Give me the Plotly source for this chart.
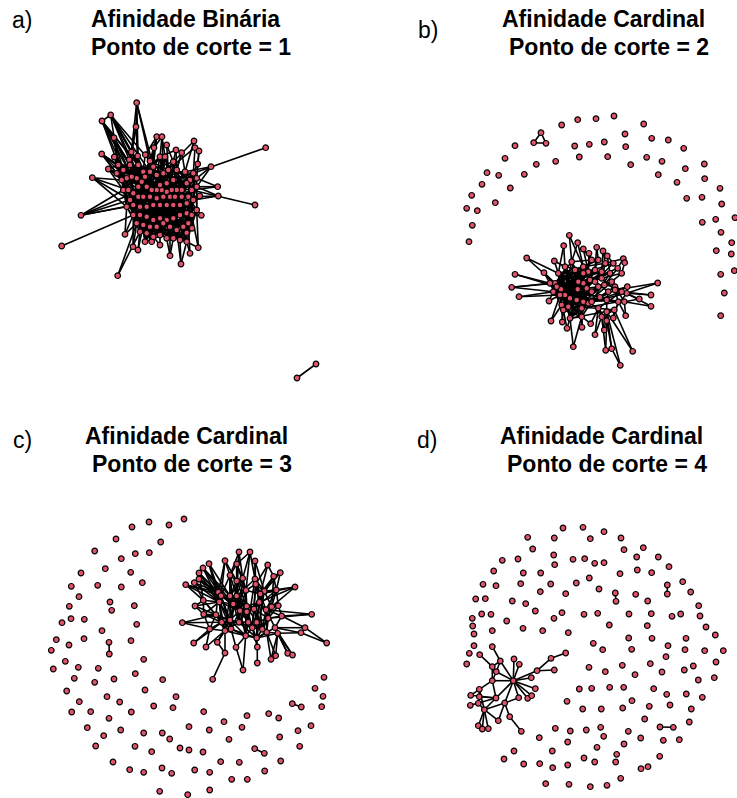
import plotly.graph_objects as go

NODE_COLOR = "#DF536B"

PANEL_LABELS = ["a)", "b)", "c)", "d)"]
TITLE_LINE1 = ["Afinidade Binária", "Afinidade Cardinal", "Afinidade Cardinal", "Afinidade Cardinal"]
TITLE_LINE2 = ["Ponto de corte = 1", "Ponto de corte = 2", "Ponto de corte = 3", "Ponto de corte = 4"]

# ---------------- panel a (binary affinity, cut = 1) ----------------
A_CORE = [
    (136.7,102.7),(110.7,115),(102,121),(136,126.7),(114,137.7),(156.7,136.7),(162,136.7),(166.7,145),
    (194,141),(195,147.7),(199,151),(265.7,147.7),(101.7,154),(176,150),(181.7,152.7),(131.3,152),
    (145.3,154.7),(154,147.7),(114.3,157),(119,165),(129.3,159.7),(137.7,156),(197.7,164),(211,166.7),
    (108.3,169),(92.3,177.7),(217.7,186.7),(218.3,196),(199.7,196),(255,205),(201.3,215.3),(81,215.3),
    (192,228.3),(186.7,232.7),(125,234.3),(61.7,246),(133,246.7),(138,250),(151.7,241.7),(160,245),
    (170,255.7),(181,264),(190,253.3),(198.3,247.7),(117.7,275.7),
    (118.3,165),(130,165),(138.3,165),(150,161),(160,156.7),(165,156.7),(173.3,161.7),(176.7,170),
    (185,171.7),(193.3,173.3),(196.7,178.3),(190,180),(186.7,183.3),(181.7,190),(176.7,190),(171.7,190),
    (166.7,191.7),(161.7,190),(156.7,190),(151.7,190),(146.7,186.7),(141.7,181.7),(136.7,178.3),(131.7,176.7),
    (126.7,178.3),(121.7,180),(123.3,190),(128.3,190),(133.3,193.3),(138.3,196.7),(143.3,196.7),(150,196.7),
    (156.7,198.3),(163.3,196.7),(170,196.7),(175,196.7),(181.7,196.7),(188.3,196.7),(191.7,190),(196.7,186.7),
    (193.3,200),(186.7,203.3),(180,205),(173.3,205),(166.7,205),(160,205),(153.3,205),(146.7,206.7),
    (140,206.7),(133.3,205),(130,200),(126.7,206.7),(133.3,215),(140,215),(146.7,216.7),(153.3,220),
    (160,218.3),(166.7,220),(173.3,218.3),(180,215),(186.7,213.3),(191.7,215),(196.7,210),(136.7,223.3),
    (143.3,225),(150,226.7),(156.7,226.7),(163.3,223.3),(170,226.7),(176.7,230),(183.3,226.7),(188.3,223.3),
    (140,231.7),(146.7,233.3),(153.3,236.7),(160,235),(166.7,238.3),(173.3,238.3),(180,240),(186.7,241.7),
    (145,241.7),(160,185),(166.7,183.3),(173.3,180),(150,171.7),(156.7,175),(163.3,173.3),(168.3,170),
    (153.3,166.7),(143.3,171.7),(123.3,170),(116.7,173.3),(138.3,186.7),(145,176.7),
]
A_CORE_EDGES = (
    "0-3 0-48 0-46 1-47 1-129 1-66 1-20 1-2 2-46 2-68 2-134 2-4 3-15 3-47 3-21 4-19 4-46 4-67 "
    "5-48 5-133 5-16 6-49 6-50 6-17 7-51 7-132 8-53 8-51 9-54 9-131 10-22 10-55 11-54 12-45 12-69 "
    "12-135 13-52 13-49 14-53 14-128 15-46 15-68 16-48 16-66 17-133 17-129 18-45 18-70 19-135 19-69 "
    "20-46 20-67 21-47 21-138 22-54 22-56 23-55 23-84 23-53 24-70 24-71 24-136 25-70 25-72 25-95 "
    "25-96 26-84 26-83 26-55 27-85 27-82 27-84 28-85 28-82 29-83 30-107 30-106 31-71 31-95 31-96 "
    "31-73 31-94 32-106 32-105 33-116 33-115 34-96 34-108 34-97 35-97 36-108 36-97 37-117 37-109 "
    "38-118 38-110 39-120 39-119 40-121 40-122 40-113 41-123 41-124 41-114 42-124 42-116 43-107 "
    "43-124 43-106 44-117 44-108 "
    "1-45 1-48 1-134 1-138 2-45 2-47 2-135 2-66 4-45 4-135 4-68 12-70 12-136 18-135 18-67 19-70 "
    "19-46 24-45 24-69 0-47 0-133 3-46 5-129 6-131 13-51 14-52 "
    "45-67 45-72 45-129 46-66 46-73 46-130 47-65 47-76 47-131 48-62 48-78 48-132 49-61 49-127 49-79 "
    "50-60 50-128 50-80 51-59 51-57 51-81 52-58 52-56 52-82 53-83 53-57 53-84 129-137 129-64 131-126 "
    "131-63 132-127 132-59 133-65 133-75 134-74 134-137 135-71 135-68 136-72 136-70 "
    "54-58 54-85 54-82 55-83 55-107 56-86 56-81 57-87 57-80 66-74 66-93 67-94 67-75 68-95 68-73 "
    "69-96 69-72 70-71 70-94 127-89 127-60 128-88 128-79 130-90 130-77 138-76 138-91 "
    "58-105 58-87 59-104 59-88 60-103 60-89 61-102 61-90 62-101 62-91 63-100 63-92 64-99 64-93 "
    "65-98 65-94 71-96 71-97 72-108 72-97 83-106 83-86 84-107 84-105 126-112 126-78 137-109 137-74 "
    "73-98 73-117 74-99 74-118 75-100 75-110 76-101 76-111 77-102 77-112 78-103 78-113 79-104 79-114 "
    "80-105 80-115 81-106 81-116 82-107 82-124 85-116 85-106 95-97 95-108 "
    "86-123 86-104 87-122 87-103 88-121 88-102 89-120 89-101 90-119 90-111 91-118 91-110 92-125 "
    "92-109 93-117 93-108 94-97 94-98 96-108 96-117 107-124 107-116 "
    "97-118 98-125 99-119 100-120 101-121 102-122 103-123 104-124 105-115 106-116 97-110 98-111 "
    "99-112 100-113 101-114 102-115 103-116 "
    "108-119 109-120 110-121 111-122 112-123 113-124 114-125 117-110 118-111 119-112 120-113 121-114 "
    "122-115 123-116 "
    "45-110 47-119 49-113 51-121 53-112 46-100 48-104 50-92 52-96 54-99 66-103 70-105 135-88 136-80 "
    "129-86 131-93 133-114 134-122 138-120 126-96 137-102 57-117 56-125 84-108 83-118 "
    "45-62 45-88 46-79 46-105 47-86 47-99 48-73 48-95 49-71 49-96 50-69 50-93 51-68 51-94 52-67 52-73 "
    "53-66 53-90 54-65 54-91 55-64 55-87 56-63 56-92 57-62 57-99 58-65 58-121 59-70 59-118 60-72 "
    "60-119 61-73 61-120 62-74 62-117 63-76 63-125 64-77 64-122 65-78 65-123 66-79 66-124 67-80 "
    "67-113 68-81 68-112 69-82 69-111 70-83 70-110 71-84 71-109 72-85 72-100 73-86 73-101 74-87 "
    "74-102 75-88 75-103 76-89 76-104 77-107 77-117 78-94 78-125 79-93 79-118 80-92 80-119 81-91 "
    "81-120 82-90 82-121 83-89 83-122 84-88 84-123 85-87 85-114 86-95 86-113 87-96 87-108 88-97 "
    "88-109 89-98 89-110 90-99 90-108 91-100 91-109 92-101 92-111 93-102 93-112 94-103 94-113 95-104 "
    "95-114 96-105 96-115 97-106 97-116 98-107 98-124 99-114 100-115 101-116 102-117 103-118 104-119 "
    "105-120 106-121 107-122 108-123 109-124 110-125 126-45 127-46 128-47 129-48 130-49 131-50 "
    "132-51 133-52 134-53 135-54 136-55 137-56 138-57 126-117 127-118 128-119 129-120 130-121 "
    "131-122 132-123 133-124 134-125 135-104 136-105 137-106 138-107"
)
A_PAIR = [(316,364),(297,378)]
A_PAIR_EDGES = "0-1"

# ---------------- panel b (cardinal affinity, cut = 2) ----------------
B_CORE = [
    (569.3,235.3),(563.7,245.7),(577.7,242.7),(583.3,249),(589,253.3),(596.7,247.3),(603,251),(607.3,256),
    (623.3,258.7),(624.7,262.7),(526.7,258),(554.3,261),(544,272.7),(515,274.3),(511.7,287.3),(519,296.7),
    (549,301),(657.7,283),(651,295),(651,306.3),(639.3,299),(627.3,286.7),(625.7,315.7),(551,321),
    (562.3,322),(567,328.3),(582,327.3),(590.7,323.7),(595,334.7),(604.3,330),(573.3,346.7),(605.7,350.3),
    (611.7,348.7),(632.7,351.3),(620.3,365.3),(613.3,318),(606.7,320.7),
    (591.7,260),(598.3,260),(605.3,263.3),(613.3,263.3),(617.7,268.3),(621.7,273.3),(610,273.3),(601.7,271.7),
    (595,270),(588.3,271.7),(583.3,273.3),(583.3,266.7),(575,270),(571.7,261.7),(565,266.7),(558.3,273.3),
    (555,283.3),(561,289.3),(565,295),(560,295),(561.7,305),(563.3,310),(570,318.3),(581.7,308.3),
    (588.3,303.3),(591.7,301.7),(598.3,308.3),(600,297.3),(606.7,300),(614.3,310),(618.3,301.7),(624.3,301.7),
    (626.7,293.3),(621.7,291.7),(615,286.7),(611.7,281.7),(604.3,285),(598.3,286.7),(591.7,291.7),(586.7,288.3),
    (583.3,283.3),(578.3,281.7),(577.7,289.3),(590,280),(595,281.7),(601.7,278.3),(608.3,291.7),(615,290),
    (576.7,300),(583.3,301.7),(606.7,311.7),(601.7,316.7),(581.7,316.7),(570,298.3),(568.3,306.7),(553.3,291.7),
    (556.7,286.7),(550,283.3),
]
B_CORE_EDGES = (
    "0-50 0-48 1-51 1-52 2-48 2-50 3-46 3-37 4-37 4-46 5-38 5-45 6-39 6-44 7-40 7-43 8-41 9-42 8-39 "
    "10-52 10-53 11-51 11-52 12-53 12-93 12-94 13-93 13-94 14-94 14-92 14-53 15-92 15-56 16-56 16-92 "
    "17-84 17-69 18-69 18-70 19-68 19-69 20-68 20-70 21-69 21-84 22-68 22-67 23-57 23-56 24-58 24-57 "
    "25-59 25-58 26-89 26-60 27-89 27-63 28-63 28-88 29-88 29-87 30-59 30-89 31-88 31-36 32-87 32-36 "
    "33-66 33-87 34-87 34-32 35-66 35-67 36-63 36-87 "
    "50-53 50-78 50-77 51-54 51-79 51-90 52-55 52-85 52-78 53-86 53-85 53-79 54-60 54-86 54-76 55-61 "
    "55-77 55-89 56-85 56-91 56-79 57-90 57-86 57-60 58-85 58-89 58-61 59-90 59-60 92-79 92-55 92-90 "
    "93-54 93-78 93-85 94-55 94-79 94-91 49-54 49-90 49-56 48-55 48-91 48-53 47-56 47-57 47-52 46-58 "
    "46-53 46-51 45-52 45-79 45-59 44-76 44-47 44-85 43-77 43-78 43-89 42-72 42-82 41-73 41-80 40-81 "
    "40-46 39-82 39-48 38-80 38-49 37-47 37-50 37-79 "
    "60-62 61-64 62-65 63-66 64-67 65-68 66-88 67-84 68-71 69-71 70-72 71-73 72-74 73-75 74-76 75-77 "
    "76-78 77-79 78-80 79-81 80-82 81-83 82-84 83-65 84-70 85-86 86-62 87-65 88-63 89-59 90-91 91-57 "
    "73-86 74-85 75-90 81-56 82-54 83-60 84-62 72-75 71-64 70-63 69-66 "
    "85-93 86-94 89-92 60-93 61-94 62-56 76-91 77-57 78-58 79-59 80-89 "
    "50-86 50-60 51-61 51-89 52-62 52-59 53-63 53-89 54-64 54-91 55-65 55-59 56-60 56-86 57-61 57-85 "
    "58-62 58-90 59-86 60-91 61-90 92-85 92-60 93-86 93-57 94-89 94-58 49-85 49-60 48-86 48-59 47-89 "
    "47-91 46-90 46-55 45-56 45-54 44-57 44-93 43-52 43-92 80-93 81-94 82-92 77-90 78-91 79-85 76-55 "
    "75-56 74-57 73-58 72-59 71-60 70-61 69-62 64-54 65-53 66-59 67-60 68-85 63-91 62-54 61-53 77-53 "
    "78-54 79-92 45-93 46-94 47-92 48-52 49-53 50-55 51-56 52-57 90-55 91-54 85-92 86-93 89-94"
)
B_TRI = [(541,132.7),(533.7,142.7),(546,143.3)]
B_TRI_EDGES = "0-1 0-2 1-2"
B_ISO = [
    (561.7,125),(577.7,119.7),(596,118.7),(614,116),(643.7,124),(515,145.7),(574.7,146),(589.3,144.3),
    (604.3,142),(625,134),(625.7,146.7),(651.7,138.3),(668.3,140),(683.7,148.3),(505,158.3),(579.3,157),
    (607.7,156.7),(555.7,161.3),(536.3,164.3),(646.7,157.3),(662,161.3),(630.7,164.7),(704.3,164),(685.3,168.7),
    (487,172.7),(498.7,175.3),(524.3,174.3),(658.3,174.7),(704.7,178.7),(482,184.3),(510.3,188),(677,182.3),
    (720,188.3),(471.7,195.3),(686.7,198.3),(702,197.3),(721.7,204),(495.3,202.7),(466.7,208.3),(477.3,210.7),
    (472.3,225.3),(702.3,222.3),(715.7,219.3),(735,217.7),(721,232.3),(469,241.7),(731.7,242.7),(716.3,250.7),
    (731.3,254),(734.3,270.7),(720.7,274.3),(724.3,293),(720.7,315.7),
]

# ---------------- panel c (cardinal affinity, cut = 3) ----------------
C_CORE = [
    (239,552),(250,552),(225,560.7),(236.7,564),(255,561),(267.7,565),(209,563.7),(203,568),
    (199,573),(230,575.3),(242.7,578.3),(255,579),(273.7,576.3),(280.3,572.7),(199,579),(194.3,582.7),
    (185.7,584.7),(236.7,581),(255.7,584.3),(295,587),(246,590.3),(264.3,591.3),(276.3,590),(218.3,592.3),
    (221,595.7),(230,596),(236.7,596),(260.3,594),(203.3,600.3),(219.3,602),(259.3,602.3),(233.3,604),
    (195,606),(246.7,606.3),(271.7,606.7),(278.3,605.7),(254,609),(266,609.7),(240,610.7),(246.7,611.7),
    (216,614.7),(203.7,614.3),(281.7,616),(311.7,614.3),(268.3,618.3),(230,620),(221.7,622.3),(182.3,622.7),
    (239,622.3),(248.3,622.3),(256.7,622.3),(209.7,629),(231,629),(252.3,627.7),(262.3,629.3),(275,627.7),
    (305,627.7),(225,630.7),(301,632.7),(266.7,632.3),(277.7,633.3),(245.7,635.7),(256.7,638),(193.7,643),
    (206,647),(217.3,642.3),(236,647.3),(257.3,647),(326.7,643),(225,653),(287.7,653.3),(292.5,655),
    (257.3,663),(243,670),(271,659.3),(275.7,655.7),(212.7,679.3),
]
C_CORE_EDGES = (
    "0-9 0-17 0-10 1-10 1-11 1-3 2-9 2-23 3-17 4-11 4-18 5-12 5-18 6-24 6-23 7-25 7-29 8-24 8-28 "
    "14-29 14-23 15-28 16-23 16-24 13-12 13-21 12-22 19-27 19-21 47-51 47-40 41-29 41-51 32-28 32-40 "
    "43-42 43-44 56-42 56-55 58-60 58-55 68-58 68-56 63-51 63-46 64-57 64-51 65-57 65-45 66-52 66-61 "
    "67-62 67-53 72-67 73-61 73-66 69-57 69-65 76-69 74-59 74-60 75-59 75-60 70-60 70-55 71-60 71-55 "
    "57-46 57-52 9-25 9-24 10-20 10-26 11-27 11-21 17-26 17-20 18-27 18-30 20-33 20-31 21-30 21-34 "
    "22-34 22-35 23-29 24-31 25-38 26-38 27-36 28-40 29-45 30-37 31-45 33-48 34-44 35-42 36-50 37-44 "
    "38-52 39-49 40-46 42-55 44-54 45-48 46-57 48-53 49-61 50-54 53-62 54-59 55-60 59-62 61-62 52-61 "
    "51-46 25-33 26-36 23-31 24-38 9-31 3-26 3-20 10-33 11-30 12-34 12-27 29-52 31-48 33-53 36-54 "
    "37-59 45-61 40-57 28-29 38-49 30-50 20-39 17-25 18-21 32-41 41-40 24-45 25-52 26-49 33-50 36-44 "
    "30-36 39-53 45-52 48-49 53-54 38-45 31-33 "
    "9-45 10-48 11-49 17-52 18-53 20-61 21-62 23-46 24-52 25-57 26-48 27-50 29-57 30-54 31-38 33-38 "
    "33-36 36-53 37-54 38-48 39-48 40-51 44-59 45-46 49-53 50-62 52-45 23-24 24-25 25-26 26-20 20-27 "
    "27-30 30-33 33-31 31-29 29-23 3-9 3-10 10-17 17-9 11-18 18-20 12-21 21-27 34-37 35-44 42-44 "
    "44-50 53-61 54-62 57-61 46-52 40-45 28-41 41-46 23-40 29-46 31-52 38-61 48-62 49-54 36-59 37-55 "
    "30-44 21-36 20-38 26-31 25-31 10-25 11-26 18-36 17-33 9-26 24-29 22-37 35-37 "
    "6-25 6-29 7-24 7-31 8-29 8-23 14-24 14-31 15-29 15-23 16-28 16-29 2-24 2-17 0-26 1-20 4-21 5-27 "
    "13-22 12-30 19-30 19-34 22-27 22-36 23-38 24-33 25-36 26-39 27-37 28-46 29-38 31-39 32-29 41-45 "
    "40-52 46-48 45-53 48-50 49-59 52-62 57-48 51-57 47-46 43-37 42-37 35-34 34-54 55-62 60-62 59-60"
)
C_PAIRS = [(109,642.3),(109.3,654),(292.3,703.7),(301.3,707),(254.7,748.7),(264.3,753.3)]
C_PAIRS_EDGES = "0-1 2-3 4-5"
C_ISO = [
    (184,519),(169,525),(149,522),(132,527),(116,539),(160.7,542),(94.7,551),(135.3,553.7),
    (149.3,552.7),(121.3,558.7),(105.3,568.7),(130.7,572.3),(81,573),(142.3,582.7),(71.3,586.3),(97.7,585.3),
    (121.3,587),(79,596.7),(110,602),(69.3,606.3),(134.3,605.7),(111.7,610.3),(71,618.7),(84.3,619.3),
    (62,622.7),(136.7,624.3),(102,630.7),(56.3,639.7),(84,638.7),(69,645),(131,640.7),(51.3,650.3),
    (65.3,661.3),(78.3,667.3),(53.3,669),(98.3,668.3),(143.7,659.3),(135.3,673.7),(74.3,678.3),(94.7,682.3),
    (114,679),(162.7,679.7),(66.7,691),(145,690),(107,696.7),(119.7,702),(79.3,701.7),(176,696.7),
    (153.7,706),(173,707.7),(71.7,712),(90.7,711.7),(131.3,712),(109,718.3),(189,726.7),(87.3,727.7),
    (120.7,730),(143.7,733),(162.3,733),(103.7,735.7),(169.7,739),(95.7,746),(135,746.3),(151.7,751.7),
    (180,748),(189,750),(113,762),(129.7,769.7),(143.7,772.3),(162,768),(171.7,773.3),(159.7,791.3),
    (187.7,794.7),(203.7,711.7),(209.3,730),(224,721.7),(247,715.7),(242,727.3),(229,739.3),(268.7,713.7),
    (278.7,718),(315,688.3),(324,677.3),(323,696.3),(321.7,706.7),(311,725.7),(298,730.7),(279.7,737),
    (299.7,746.3),(203,752),(220.7,761.7),(239.3,762.3),(280.7,761),(194.7,770),(209.7,772.3),(264.7,771),
    (231.7,779.3),(247.3,779.3),(209.7,790),
]

# ---------------- panel d (cardinal affinity, cut = 4) ----------------
D_CORE = [
    (474,645.7),(492.3,646.7),(469.3,653.3),(479.7,654.7),(500.3,661),(514,659),(519.3,664.3),(492.3,666.7),
    (496.3,671.7),(513.3,680.7),(492.3,680.7),(531.3,677.7),(537,670.7),(554.3,670),(551,658.3),(565.7,653),
    (535.3,688.7),(479.3,689.3),(470.7,695.3),(479.3,696.7),(496,698),(518.7,697.7),(527.7,698.3),(531.7,695.7),
    (478.3,703.3),(470.3,705.3),(504.7,703),(484.3,709.7),(509.7,716.7),(498.3,720.7),(478.3,725.7),(482.3,729),
    (488.3,728.7),(521.3,731.3),
]
D_CORE_EDGES = (
    "3-7 1-4 4-7 4-9 4-8 5-9 6-9 7-10 8-9 9-11 9-12 12-14 14-15 12-13 9-16 9-21 9-22 9-23 9-10 9-20 "
    "9-26 10-17 10-20 17-19 17-18 18-20 19-20 25-20 24-27 27-20 27-26 27-30 27-31 27-32 27-29 26-28 "
    "28-33 26-29 17-27 21-26 19-24 10-8"
)
D_PAIRS = [(615.3,593),(616,601.3),(667.3,585),(667.3,594),(660,727),(673.3,727.3)]
D_PAIRS_EDGES = "0-1 2-3 4-5"
D_ISO = [
    (563,528),(583,527.3),(604,531.7),(527.7,537.3),(554.3,538),(590.3,538.7),(532.7,549),(502.3,560.3),
    (518,559),(553.7,555),(573,559.3),(584.7,558.7),(594.7,563.3),(604,562.7),(554.7,564.7),(493.7,571),
    (523.3,573),(540.7,573),(589.3,578),(483,584.3),(496,585.7),(520.7,583.7),(550.7,584),(576.3,583),
    (599,589),(540.3,591.7),(565.7,593.7),(475.7,599),(485.3,598.7),(512.3,601),(525.7,603.7),(535.3,611),
    (481.7,614),(491,614.3),(562,612.7),(584,614.3),(597.7,613.3),(472.3,618.3),(506.7,621),(554,618.3),
    (472.7,626),(523,628.3),(492.3,630.7),(542.7,630.7),(568.3,632.7),(474,634),(593.3,643.3),(602.7,649.7),
    (466.7,664),(589,667.3),(579.3,689),(591.7,688.3),(567,701.3),(582.7,709),(601.3,709),(555.3,728.3),
    (570.3,731),(586.3,730),(600.7,727.3),(603.7,736.3),(539.3,737.7),(567.7,742),(514,751),(552.3,751),
    (597,747.3),(504,759),(584,758),(594.7,762),(523.7,764),(539.7,763.7),(552.7,767.7),(567.7,765),
    (545.7,783.7),(569,784.3),(590.3,786.7),
    (621,538),(624,549.7),(643.3,547.7),(636.7,557),(658.3,557),(620,573.7),(637.3,570),(651.7,572.7),
    (669,566.7),(682.7,581.7),(635.7,594.3),(647.7,601),(690.7,592),(698.7,605.7),(629,614),(651.3,613.7),
    (672,616.3),(680.7,614),(700,616),(609.3,625),(647.3,625.7),(706,627),(628.7,638),(652,638.3),
    (631.7,649.3),(668,645.7),(686,638.3),(715.3,635),(685,649.7),(704.7,650.7),(723.3,650.7),(666,656.7),
    (622.3,665.3),(650.3,663.7),(605.3,671.7),(635,674.7),(662,672),(684.3,670),(693.3,666),(716,662),
    (698.3,680),(714.3,677.7),(609.7,687.3),(623.7,687.3),(653.7,688.7),(666.7,694.3),(686.3,694),(702.3,697.3),
    (632,700.7),(622.7,708),(649.3,706.3),(670,705),(691.3,709),(644.7,719),(689.3,722),(628.3,731.3),
    (640.7,738),(663.3,740.3),(679.3,739.7),(624,744),(616.7,754.3),(659.7,756.3),(615.7,762),(641,768.7),
    (648,766.7),(620.7,778.3),(607,785.3),
]

COMPONENTS = [
    (A_CORE, A_CORE_EDGES), (A_PAIR, A_PAIR_EDGES),
    (B_CORE, B_CORE_EDGES), (B_TRI, B_TRI_EDGES), (B_ISO, ""),
    (C_CORE, C_CORE_EDGES), (C_PAIRS, C_PAIRS_EDGES), (C_ISO, ""),
    (D_CORE, D_CORE_EDGES), (D_PAIRS, D_PAIRS_EDGES), (D_ISO, ""),
]


def edge_coords(nodes, edge_str):
    xs, ys = [], []
    for pair in edge_str.split():
        i, j = (int(v) for v in pair.split("-"))
        xs += [nodes[i][0], nodes[j][0], None]
        ys += [nodes[i][1], nodes[j][1], None]
    return xs, ys


ex, ey, nx, ny = [], [], [], []
for nodes, edges in COMPONENTS:
    x, y = edge_coords(nodes, edges)
    ex += x
    ey += y
    nx += [p[0] for p in nodes]
    ny += [p[1] for p in nodes]

fig = go.Figure()
fig.add_trace(go.Scatter(x=ex, y=ey, mode="lines", line=dict(color="black", width=1.6),
                         hoverinfo="skip", showlegend=False))
fig.add_trace(go.Scatter(x=nx, y=ny, mode="markers",
                         marker=dict(size=5.6, color=NODE_COLOR, line=dict(color="black", width=1.2)),
                         hoverinfo="skip", showlegend=False))

title_font = dict(family="Liberation Sans, Arial, sans-serif", size=23, color="black")
label_font = dict(family="Liberation Sans, Arial, sans-serif", size=23, color="black")
title_cx = [185, 603, 186, 601]
title_y1 = [19, 19, 436, 436]
label_xy = [(22, 20), (428, 30), (22, 440), (427, 440)]
for k in range(4):
    fig.add_annotation(x=title_cx[k], y=title_y1[k], text="<b>%s</b>" % TITLE_LINE1[k], showarrow=False,
                       xanchor="center", yanchor="middle", font=title_font)
    fig.add_annotation(x=title_cx[k] + 6, y=title_y1[k] + 28, text="<b>%s</b>" % TITLE_LINE2[k], showarrow=False,
                       xanchor="center", yanchor="middle", font=title_font)
    fig.add_annotation(x=label_xy[k][0], y=label_xy[k][1], text=PANEL_LABELS[k], showarrow=False,
                       xanchor="center", yanchor="middle", font=label_font)

fig.update_layout(
    width=737, height=798, margin=dict(l=0, r=0, t=0, b=0),
    paper_bgcolor="white", plot_bgcolor="white",
    xaxis=dict(range=[0, 737], visible=False, fixedrange=True),
    yaxis=dict(range=[798, 0], visible=False, fixedrange=True),
)
fig.write_html("out.html", config={"displayModeBar": False},
               post_script="document.body.style.margin='0px';")
